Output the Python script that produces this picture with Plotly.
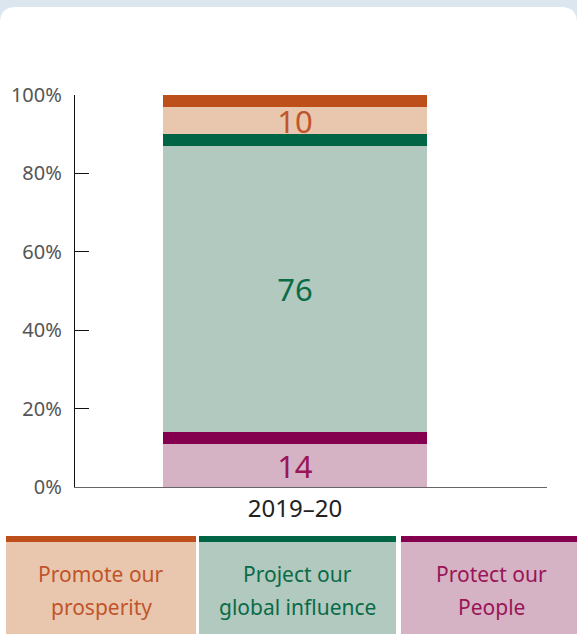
import plotly.graph_objects as go

# ---- data ----
year = ["2019–20"]
categories = ["Protect our People", "Project our global influence", "Promote our prosperity"]  # bottom -> top
values = [14, 76, 10]
legend_order = ["Promote our prosperity", "Project our global influence", "Protect our People"]
legend_lines = {
    "Promote our prosperity": ["Promote our", "prosperity"],
    "Project our global influence": ["Project our", "global influence"],
    "Protect our People": ["Protect our", "People"],
}
y_ticks = [0, 20, 40, 60, 80, 100]
y_tick_labels = ["0%", "20%", "40%", "60%", "80%", "100%"]

# ---- styles ----
light = {"Promote our prosperity": "#e9c7ae",
         "Project our global influence": "#b1c9bf",
         "Protect our People": "#d5b2c4"}
dark = {"Promote our prosperity": "#bc4f1a",
        "Project our global influence": "#006545",
        "Protect our People": "#84004f"}
textcol = {"Promote our prosperity": "#c0542a",
           "Project our global influence": "#0a6b47",
           "Protect our People": "#9a1457"}
BAND = 3.0  # thickness of the dark cap on each segment (axis units)
FONT = "Noto Sans, Open Sans, sans-serif"

W, H = 577, 634
L, R, T, B = 75, 30, 95, 147
PW, PH = W - L - R, H - T - B


def px(x):
    return (x - L) / PW


def py(y):
    return (H - B - y) / PH


fig = go.Figure()
for cat, v in zip(categories, values):
    fig.add_trace(go.Bar(
        x=year, y=[v - BAND], width=1, marker=dict(color=light[cat], line=dict(width=0)),
        text=[str(v)], textposition="inside", insidetextanchor="middle", textangle=0,
        constraintext="none",
        textfont=dict(size=31, color=textcol[cat], family=FONT), name=cat, showlegend=False,
        cliponaxis=False,
    ))
    fig.add_trace(go.Bar(
        x=year, y=[BAND], width=1, marker=dict(color=dark[cat], line=dict(width=0)),
        name=cat, showlegend=False, hoverinfo="skip", cliponaxis=False,
    ))

shapes = []
# white card with rounded top corners
r = 16
x0, x1, y0, y1 = px(0), px(W), py(7), py(H + 5)
rx, ry = r / PW, r / PH
path = (f"M {x0},{y1} L {x0},{y0 - ry} Q {x0},{y0} {x0 + rx},{y0} "
        f"L {x1 - rx},{y0} Q {x1},{y0} {x1},{y0 - ry} L {x1},{y1} Z")
shapes.append(dict(type="path", path=path, xref="paper", yref="paper",
                   fillcolor="white", line=dict(width=0), layer="below"))

annotations = []
boxes = [(6, 196), (199, 396), (401, 581)]
for cat, (bx0, bx1) in zip(legend_order, boxes):
    shapes.append(dict(type="rect", xref="paper", yref="paper", x0=px(bx0), x1=px(bx1),
                       y0=py(H + 5), y1=py(536), fillcolor=light[cat], line=dict(width=0), layer="above"))
    shapes.append(dict(type="rect", xref="paper", yref="paper", x0=px(bx0), x1=px(bx1),
                       y0=py(542), y1=py(536), fillcolor=dark[cat], line=dict(width=0), layer="above"))
    cx = (bx0 + bx1) / 2
    for i, line in enumerate(legend_lines[cat]):
        annotations.append(dict(text=line, xref="paper", yref="paper", x=px(cx), y=py(574 + 33 * i),
                                xanchor="center", yanchor="middle", showarrow=False,
                                font=dict(size=21, color=textcol[cat], family=FONT)))

fig.update_layout(
    width=W, height=H, margin=dict(l=L, r=R, t=T, b=B),
    paper_bgcolor="#dce6ef", plot_bgcolor="rgba(0,0,0,0)",
    barmode="stack", bargap=0, showlegend=False,
    shapes=shapes, annotations=annotations,
    font=dict(family=FONT),
    xaxis=dict(range=[-220 / 264, 252 / 264], showgrid=False, zeroline=False,
               showline=True, linecolor="#666666", linewidth=1.3, ticks="",
               tickfont=dict(size=24, color="#222222", family=FONT), ticklabelstandoff=0),
    yaxis=dict(range=[0, 100], tickvals=y_ticks, ticktext=y_tick_labels, showgrid=False,
               zeroline=False, showline=True, linecolor="#111111", linewidth=1.3,
               ticks="inside", ticklen=14, tickcolor="#111111", tickwidth=1.3,
               tickfont=dict(size=20, color="#555555", family=FONT), ticklabelstandoff=8),
)

fig.write_html("out.html", config={"displayModeBar": False},
               post_script="document.body.style.margin='0';document.body.style.overflow='hidden';")
